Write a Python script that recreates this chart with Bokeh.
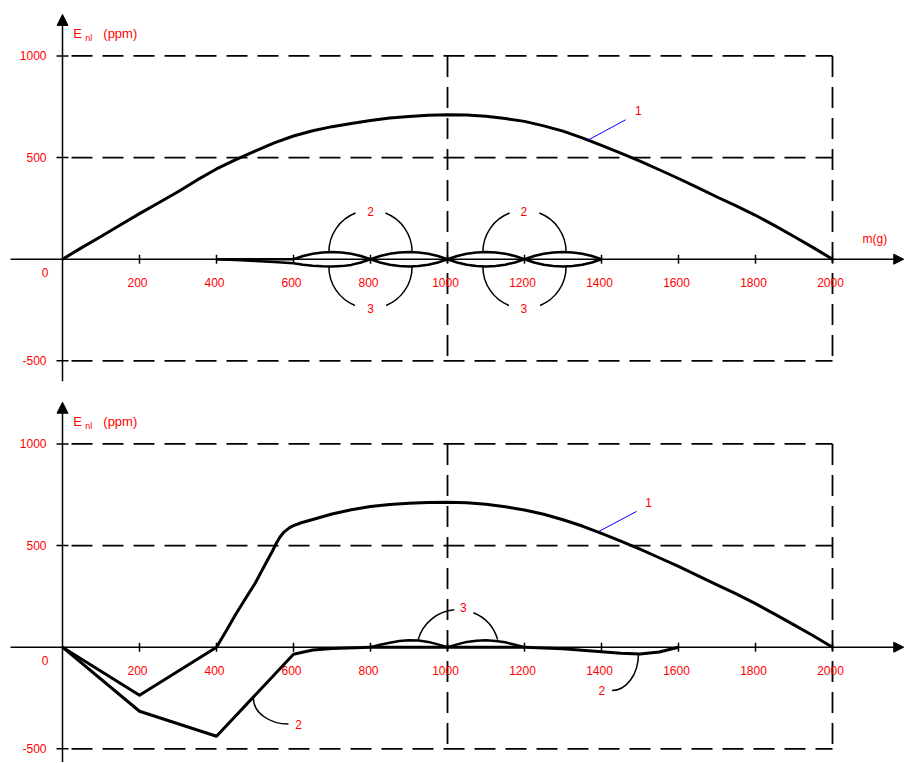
from bokeh.plotting import figure
from bokeh.models import Range1d, Arrow, NormalHead
from bokeh.layouts import column
from bokeh.core.properties import value
from bokeh.embed import file_html
from bokeh.resources import INLINE

# ---------------- data ----------------
x_ticks = [200, 400, 600, 800, 1000, 1200, 1400, 1600, 1800, 2000]
x_tick_labels = ["200", "400", "600", "800", "1000", "1200", "1400", "1600", "1800", "2000"]
y_ticks = [1000, 500, -500]
y_tick_labels = ["1000", "500", "-500"]
grid_x = [1000, 2000]

# top panel
top_c1_x = [0, 50, 100, 150, 200, 250, 300, 350, 400, 450, 500, 550, 600, 650, 700,
            750, 800, 850, 900, 950, 1000, 1050, 1100, 1150, 1200, 1250, 1300, 1350,
            1400, 1450, 1500, 1550, 1600, 1650, 1700, 1750, 1800, 1850, 1900, 1950, 2000]
top_c1_y = [0, 57, 112, 168, 224, 278, 332, 390, 444, 490, 532, 572, 606, 632, 652,
            668, 682, 694, 702, 708, 711, 709, 703, 692, 678, 656, 630, 597,
            560, 522, 482, 440, 397, 352, 306, 262, 216, 165, 112, 57, 0]

top_c2_x = [400, 600, 625, 650, 675, 700, 725, 750, 775, 800, 825, 850, 875, 900,
            925, 950, 975, 1000, 1025, 1050, 1075, 1100, 1125, 1150, 1175, 1200,
            1225, 1250, 1275, 1300, 1325, 1350, 1375, 1400]
top_c2_y = [0, 0, 16, 27, 33, 36, 33, 27, 16, 0, 16, 27, 33, 36,
            33, 27, 16, 0, 16, 27, 33, 36, 33, 27, 16, 0,
            16, 27, 33, 36, 33, 27, 16, 0]

top_c3_x = [400, 450, 500, 550, 600, 625, 650, 675, 700, 725, 750, 775, 800, 825, 850,
            875, 900, 925, 950, 975, 1000, 1025, 1050, 1075, 1100, 1125, 1150, 1175,
            1200, 1225, 1250, 1275, 1300, 1325, 1350, 1375, 1400]
top_c3_y = [0, -4, -9, -14, -20, -27, -32, -35, -36, -34, -28, -16, 0, -16, -27,
            -33, -36, -33, -27, -16, 0, -16, -27, -33, -36, -33, -27, -16,
            0, -16, -27, -33, -36, -33, -27, -16, 0]

# bottom panel
bot_c1_x = [0, 200, 400, 425, 450, 475, 500, 525, 545, 555, 565, 575, 590, 600, 620, 650,
            700, 750, 800, 850, 900, 950, 1000, 1050, 1100, 1150, 1200, 1250, 1300, 1350,
            1400, 1450, 1500, 1550, 1600, 1650, 1700, 1750, 1800, 1850, 1900, 1950, 2000]
bot_c1_y = [0, -236, 0, 80, 162, 238, 313, 402, 472, 510, 542, 566, 588, 598, 612, 628,
            655, 676, 692, 702, 708, 712, 713, 710, 703, 691, 675, 654, 627, 596,
            560, 522, 482, 440, 398, 352, 307, 262, 214, 163, 110, 56, 0]

bot_c2_x = [0, 200, 400, 600, 650, 700, 800, 1000, 1200, 1300, 1400, 1450, 1500, 1550, 1600]
bot_c2_y = [0, -315, -438, -35, -14, -6, 0, 0, 0, -8, -22, -30, -33, -24, 0]

bot_c3_x = [800, 825, 850, 875, 900, 925, 950, 975, 1000,
            1025, 1050, 1075, 1100, 1125, 1150, 1175, 1200]
bot_c3_y = [0, 12, 22, 30, 34, 33, 26, 14, 0,
            14, 26, 32, 34, 31, 24, 12, 0]

FONT = value("Liberation Sans")
RED = "#ff0000"
W = 907
X_RANGE = (-161.04, 2194.8)


def base_panel(height, y_top, y_bottom, axis_bottom, arrow_top):
    p = figure(width=W, height=height, output_backend="svg", toolbar_location=None,
               x_range=Range1d(*X_RANGE), y_range=Range1d(y_bottom, y_top),
               x_axis_type=None, y_axis_type=None, min_border=0,
               outline_line_color=None, background_fill_color="white",
               border_fill_color="white")
    p.grid.visible = False
    # dashed grid
    p.segment(x0=[0] * len(y_ticks), y0=y_ticks, x1=[2000] * len(y_ticks), y1=y_ticks,
              line_color="black", line_width=1.8, line_dash="21 10", line_dash_offset=22)
    p.segment(x0=grid_x, y0=[1000] * len(grid_x), x1=grid_x, y1=[-500] * len(grid_x),
              line_color="black", line_width=1.8, line_dash="21 10")
    # axes
    p.add_layout(Arrow(end=NormalHead(size=11, fill_color="black", line_color="black"),
                       x_start=0, y_start=axis_bottom, x_end=0, y_end=arrow_top,
                       line_color="black", line_width=1.5))
    p.add_layout(Arrow(end=NormalHead(size=10, fill_color="black", line_color="black"),
                       x_start=-135, y_start=0, x_end=2185, y_end=0,
                       line_color="black", line_width=1.5))
    # ticks
    p.scatter(x=x_ticks, y=[0] * len(x_ticks), marker="dash", angle=1.5708, size=9,
              line_color="black", line_width=1.5)
    p.scatter(x=[0] * len(y_ticks), y=y_ticks, marker="dash", size=12,
              line_color="black", line_width=1.5)
    # tick labels
    p.text(x=x_ticks, y=[0] * len(x_ticks), text=x_tick_labels, x_offset=-2, y_offset=23,
           text_align="center", text_baseline="middle", text_font=FONT,
           text_font_size="12px", text_color=RED)
    p.text(x=[0] * len(y_ticks), y=y_ticks, text=y_tick_labels, x_offset=-16,
           text_align="right", text_baseline="middle", text_font=FONT,
           text_font_size="12px", text_color=RED)
    p.text(x=[0], y=[0], text=["0"], x_offset=-14, y_offset=13,
           text_align="right", text_baseline="middle", text_font=FONT,
           text_font_size="12px", text_color=RED)
    # axis title E_nl (ppm)
    p.text(x=[28], y=[1108], text=["E"], text_align="left", text_baseline="middle",
           text_font=FONT, text_font_size="13px", text_color=RED)
    p.text(x=[59], y=[1086], text=["nl"], text_align="left", text_baseline="middle",
           text_font=FONT, text_font_size="9px", text_color=RED)
    p.text(x=[106], y=[1108], text=["(ppm)"], text_align="left", text_baseline="middle",
           text_font=FONT, text_font_size="13px", text_color=RED)
    return p


def label(p, x, y, t):
    p.text(x=[x], y=[y], text=[t], text_align="center", text_baseline="middle",
           text_font=FONT, text_font_size="12px", text_color=RED)


# ---------------- top panel ----------------
p1 = base_panel(390, 1272.5, -645.8, -600, 1204)
p1.line(top_c1_x, top_c1_y, line_color="black", line_width=3, line_join="round")
p1.line(top_c3_x, top_c3_y, line_color="black", line_width=2.5, line_join="round")
p1.line(top_c2_x, top_c2_y, line_color="black", line_width=2.5, line_join="round")
# leaders for labels 2 (upper lenses) and 3 (lower lenses)
p1.arc(x=[800, 800, 1200, 1200], y=[36, 36, 36, 36], radius=108,
       start_angle=[0, 111, 0, 111], end_angle=[69, 180, 69, 180],
       start_angle_units="deg", end_angle_units="deg",
       line_color="black", line_width=1.5)
p1.arc(x=[800, 800, 1200, 1200], y=[-38, -38, -38, -38], radius=108,
       start_angle=[180, 292, 180, 292], end_angle=[248, 360, 248, 360],
       start_angle_units="deg", end_angle_units="deg",
       line_color="black", line_width=1.5)
label(p1, 800, 236, "2")
label(p1, 1198, 236, "2")
label(p1, 800, -244, "3")
label(p1, 1198, -244, "3")
p1.segment(x0=[1366], y0=[587], x1=[1463], y1=[686], line_color="#0000ff", line_width=1)
label(p1, 1496, 731, "1")
label(p1, 2110, 100, "m(g)")

# ---------------- bottom panel ----------------
p2 = base_panel(372, 1262.7, -567.2, -600, 1205)
p2.line(bot_c1_x, bot_c1_y, line_color="black", line_width=3, line_join="round")
p2.line(bot_c2_x, bot_c2_y, line_color="black", line_width=3, line_join="round")
p2.line(bot_c3_x, bot_c3_y, line_color="black", line_width=2.5, line_join="round")
p2.arc(x=[1027, 1027], y=[-19, -19], radius=107.5,
       start_angle=[16, 95], end_angle=[68, 164],
       start_angle_units="deg", end_angle_units="deg",
       line_color="black", line_width=1.5)
label(p2, 1041, 195, "3")
p2.bezier(x0=[496, 1496], y0=[-252, -33], x1=[587, 1427], y1=[-378, -213],
          cx0=[496, 1496], cy0=[-321, -132], cx1=[537, 1465], cy1=[-378, -213],
          line_color="black", line_width=1.5)
label(p2, 613, -380, "2")
label(p2, 1401, -213, "2")
p2.segment(x0=[1392], y0=[568], x1=[1491], y1=[668], line_color="#0000ff", line_width=1)
label(p2, 1522, 713, "1")

layout = column(p1, p2)
open("out.html", "w").write(file_html(layout, INLINE))
